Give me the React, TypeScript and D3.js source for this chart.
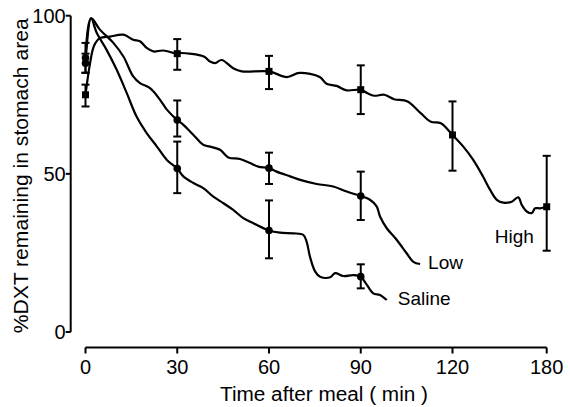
import React from 'react';
import * as d3 from 'd3';

// time (min) / % DXT remaining
const highCurve: [number, number][] = [
  [0, 75], [1.5, 85], [2.8, 90.5], [4.7, 92.9], [8, 93.4], [12.4, 94], [15.6, 92.4], [17.8, 91.9],
  [20, 89.8], [22.2, 88.7], [25.4, 89], [30, 88], [31, 88.2], [38.7, 87.1], [40.7, 85.5], [42.4, 85],
  [44.5, 86], [48.3, 83.4], [51.1, 82.4], [60, 82.4], [65.8, 80.6], [70, 81.9], [76.6, 80.6],
  [78.8, 78.5], [82.1, 77.8], [85.4, 76.4], [90, 76.6], [92.2, 75.5], [94.4, 74.7], [97.7, 75],
  [100.9, 73.6], [105.3, 72.9], [109.6, 69.2], [112.9, 66.5], [116.2, 66], [120, 62.3],
  [126.9, 58.6], [133.2, 54.4], [139.6, 49], [143.9, 45], [148.2, 41.8], [152.4, 40.9],
  [157.7, 41.2], [161.9, 42.6], [164.1, 40.2], [167.3, 38.1], [170.5, 37.6], [172.6, 39.1],
  [175.8, 39.1], [180, 39.6]
];

const lowCurve: [number, number][] = [
  [0, 86.7], [1.8, 99.2], [4.7, 95.6], [9.1, 91.4], [12.4, 87.1], [15.6, 80.8], [17.8, 78.7],
  [21.1, 77.1], [24.4, 73.4], [26.6, 70.3], [30, 67], [32, 65.5], [35.3, 62.3], [38.5, 59.2],
  [40.7, 58.6], [44, 57.6], [46.7, 55.2], [50.5, 54.7], [53.8, 53.4], [56.5, 52.3], [60, 51.8],
  [62.5, 50.7], [66.9, 49.2], [70.2, 48.1], [75.6, 46.8], [81, 46], [85.4, 44.4], [90, 43],
  [93, 41.8], [95.2, 39.7], [96.3, 36.5], [98.5, 32.8], [101.8, 29.1], [105, 24.9], [107.2, 22.2],
  [109.4, 21.5]
];

const salineCurve: [number, number][] = [
  [0, 85], [1.8, 99.2], [3.7, 94.5], [6.9, 89.2], [10.2, 82.9], [13.5, 75.5], [16.7, 68.1],
  [20, 62.9], [23.3, 58.7], [26.6, 54.4], [30, 51.7], [32, 49.2], [35.3, 47.1], [38.5, 45.5],
  [41.8, 42.8], [45.1, 40.7], [48.3, 38.6], [51.6, 36], [54.9, 34.4], [60, 32.1], [63.6, 31.4],
  [68, 31.2], [71.2, 30.7], [72.3, 28.6], [73.4, 23.8], [75.1, 19.1], [76.7, 17.5], [80, 17.3],
  [81.6, 18.6], [84.3, 17.7], [87.6, 18], [90, 17.5], [92, 14.9], [94.1, 12.2], [96.3, 11.7],
  [98.5, 10.1]
];

// means with error bar ends [time, mean, low, high]
const highPoints = [[0, 75, 71.3, 78.2], [30, 88, 82.9, 92.6], [60, 82.4, 76.8, 87.3], [90, 76.6, 68.9, 84.3], [120, 62.3, 51, 72.9], [180, 39.6, 25.7, 55.7]];
const lowPoints = [[0, 86.7, 82, 91.4], [30, 67, 61.8, 73.2], [60, 51.8, 46.8, 56.7], [90, 43, 35.4, 50.7]];
const salinePoints = [[0, 85, 81.9, 88], [30, 51.7, 43.9, 60.2], [60, 32.1, 23.3, 41.6], [90, 17.5, 13.8, 21.4]];

const timeTicks = [0, 30, 60, 90, 120, 180];
const valueTicks = [0, 50, 100];

const FONT = '"Liberation Sans", Arial, sans-serif';

export default function App() {
  // the figure squeezes 120-180 min into the width of one 30-min step
  const x = d3.scaleLinear().domain([0, 120, 180]).range([85.5, 452.5, 546.7]);
  const y = d3.scaleLinear().domain([0, 100]).range([332, 15.7]);
  const line = d3.line<[number, number]>()
    .x(d => x(d[0]))
    .y(d => y(d[1]))
    .curve(d3.curveCatmullRom.alpha(0.5));

  const axisY = 347.5;
  const axisX = 70.7;

  const errorBars = (pts: number[][], square: boolean, key: string) =>
    pts.map((p, i) => {
      const cx = x(p[0]);
      return (
        <g key={key + i}>
          <line x1={cx} x2={cx} y1={y(p[2])} y2={y(p[3])} stroke="#000" strokeWidth={2} />
          <line x1={cx - 4} x2={cx + 4} y1={y(p[2])} y2={y(p[2])} stroke="#000" strokeWidth={2} />
          <line x1={cx - 4} x2={cx + 4} y1={y(p[3])} y2={y(p[3])} stroke="#000" strokeWidth={2} />
          {square
            ? <rect x={cx - 3.5} y={y(p[1]) - 3.5} width={7} height={7} fill="#000" />
            : <circle cx={cx} cy={y(p[1])} r={3.8} fill="#000" />}
        </g>
      );
    });

  const lowEnd = lowCurve[lowCurve.length - 1];
  const salineEnd = salineCurve[salineCurve.length - 1];

  return (
    <svg width={570} height={407} style={{ position: 'absolute', left: 0, top: 0, background: '#fff' }}
      fontFamily={FONT}>
      {/* y axis */}
      <line x1={axisX} x2={axisX} y1={y(0)} y2={y(100)} stroke="#000" strokeWidth={2} />
      {valueTicks.map(v => (
        <g key={'yt' + v}>
          <line x1={axisX - 5} x2={axisX} y1={y(v)} y2={y(v)} stroke="#000" strokeWidth={2} />
          <text x={axisX - 5} y={y(v)} dy="0.36em" textAnchor="end" fontSize={20}>{v}</text>
        </g>
      ))}
      <text transform={`translate(28,${(y(0) + y(100)) / 2 + 2}) rotate(-90)`} textAnchor="middle"
        fontSize={20} textLength={315} lengthAdjust="spacingAndGlyphs">%DXT remaining in stomach area</text>

      {/* x axis */}
      <line x1={x(0)} x2={x(180)} y1={axisY} y2={axisY} stroke="#000" strokeWidth={2} />
      {timeTicks.map(t => (
        <g key={'xt' + t}>
          <line x1={x(t)} x2={x(t)} y1={axisY} y2={axisY + 6} stroke="#000" strokeWidth={2} />
          <text x={x(t)} y={373.5} textAnchor="middle" fontSize={20}>{t}</text>
        </g>
      ))}
      <text x={220} y={400.5} fontSize={20} textLength={208} lengthAdjust="spacingAndGlyphs">Time after meal ( min )</text>

      {/* curves */}
      {[highCurve, lowCurve, salineCurve].map((c, i) => (
        <path key={'c' + i} d={line(c) || ''} fill="none" stroke="#000" strokeWidth={2.2} strokeLinejoin="round" />
      ))}
      {errorBars(highPoints, true, 'h')}
      {errorBars(lowPoints, false, 'l')}
      {errorBars(salinePoints, false, 's')}

      {/* series labels */}
      <text x={x(lowEnd[0]) + 8} y={y(lowEnd[1]) + 5} fontSize={19}>Low</text>
      <text x={x(salineEnd[0]) + 11} y={y(salineEnd[1]) + 5} fontSize={19}>Saline</text>
      <text x={x(180) - 52} y={y(28)} fontSize={19}>High</text>
    </svg>
  );
}
